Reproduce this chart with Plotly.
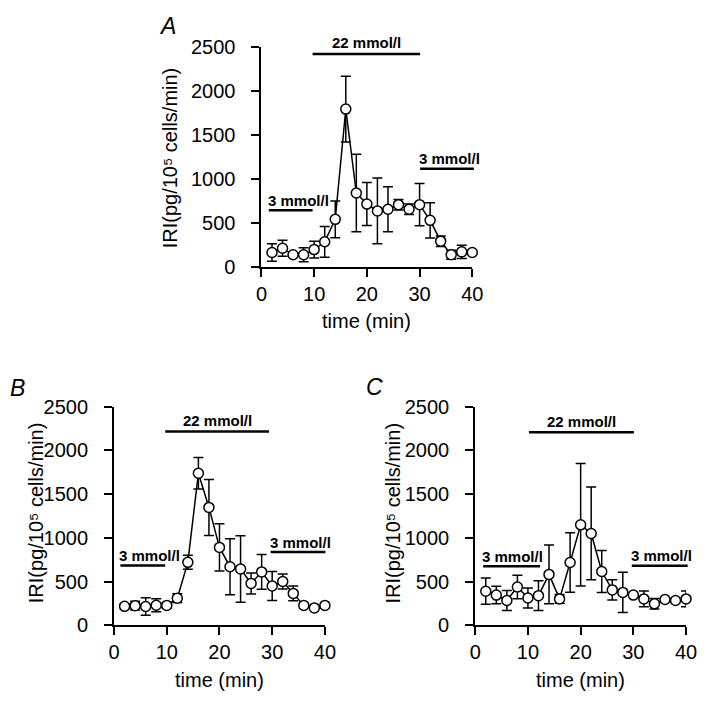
import plotly.graph_objects as go

# ---------------- data ----------------
time_min = [2, 4, 6, 8, 10, 12, 14, 16, 18, 20, 22, 24, 26, 28, 30, 32, 34, 36, 38, 40]

a_vals = [163, 211, 137, 137, 196, 285, 540, 1795, 840, 714, 636, 655, 707, 655, 707, 529, 292, 137, 170, 163]
a_err = [100, 90, 0, 80, 95, 175, 210, 375, 440, 245, 375, 255, 60, 60, 240, 200, 60, 50, 75, 0]

b_vals = [217, 225, 215, 230, 228, 310, 720, 1738, 1348, 891, 670, 644, 479, 611, 449, 501, 365, 228, 199, 228]
b_err = [30, 50, 100, 75, 30, 50, 80, 180, 320, 270, 320, 380, 120, 200, 165, 85, 85, 0, 0, 0]

c_vals = [390, 346, 284, 438, 313, 339, 582, 302, 718, 1149, 1050, 615, 405, 376, 346, 302, 247, 295, 284, 302]
c_err = [150, 100, 115, 135, 115, 170, 335, 50, 340, 700, 530, 240, 115, 230, 0, 90, 60, 0, 0, 90]

# stimulation periods: (label, start min, end min, level)
a_periods = [("3 mmol/l", 1.4, 9.7, 643), ("22 mmol/l", 9.7, 30.1, 2423), ("3 mmol/l", 30.1, 40.3, 1117)]
b_periods = [("3 mmol/l", 1.2, 9.7, 685), ("22 mmol/l", 9.7, 29.4, 2215), ("3 mmol/l", 29.7, 40.1, 838)]
c_periods = [("3 mmol/l", 1.5, 12.3, 675), ("22 mmol/l", 10.2, 30.1, 2207), ("3 mmol/l", 29.7, 40.3, 682)]

x_ticks = [0, 10, 20, 30, 40]
y_ticks = [0, 500, 1000, 1500, 2000, 2500]
x_max = 40
y_max = 2500

panel_letters = ["A", "B", "C"]
y_title = "IRI(pg/10\u2075 cells/min)"
x_title = "time (min)"

# ---------------- figure ----------------
FONT = "Liberation Sans, Arial, Helvetica, sans-serif"
fig = go.Figure()

panels = [
    ("x", "y", a_vals, a_err, a_periods),
    ("x2", "y2", b_vals, b_err, b_periods),
    ("x3", "y3", c_vals, c_err, c_periods),
]

shapes = []
annotations = []
for xa, ya, vals, errs, periods in panels:
    fig.add_trace(go.Scatter(
        x=time_min, y=vals, xaxis=xa, yaxis=ya, mode="lines+markers",
        line=dict(color="black", width=1.5),
        marker=dict(symbol="circle", size=10, color="white", line=dict(color="black", width=1.5)),
        error_y=dict(type="data", array=errs, visible=True, color="black", thickness=1.5, width=5),
        cliponaxis=False, showlegend=False, hoverinfo="skip",
    ))
    xd = xa + " domain"
    yd = ya + " domain"
    for label, t0, t1, lev in periods:
        shapes.append(dict(type="line", xref=xd, yref=yd,
                           x0=t0 / x_max, x1=t1 / x_max, y0=lev / y_max, y1=lev / y_max,
                           line=dict(color="black", width=2.5)))
        bold = dict(family=FONT, size=15, color="black", weight="bold")
        if label.startswith("22"):
            annotations.append(dict(text=label, xref=xd, yref=yd,
                                    x=(t0 + t1) / 2 / x_max, y=lev / y_max, xanchor="center",
                                    yanchor="middle", yshift=11, showarrow=False, font=bold))
        else:
            annotations.append(dict(text=label, xref=xd, yref=yd,
                                    x=t0 / x_max, y=lev / y_max, xanchor="left", xshift=-3,
                                    yanchor="middle", yshift=10, showarrow=False, font=bold))

W, H = 712, 709
def px(x):
    return x / W
def py(y):
    return 1 - y / H

dom = {
    "A": ([px(261.7), px(477.7)], [py(264), py(37.3)]),
    "B": ([px(110.7), px(326.7)], [py(634), py(408.3)]),
    "C": ([px(480.7), px(696.7)], [py(634), py(408.3)]),
}

axis_common = dict(showline=True, linecolor="black", linewidth=2, ticks="outside",
                   ticklen=8, tickwidth=2, tickcolor="black", showgrid=False, zeroline=False,
                   tickfont=dict(family=FONT, size=20, color="black"), fixedrange=True)

layout_axes = {}
for i, key in enumerate(["A", "B", "C"]):
    sfx = "" if i == 0 else str(i + 1)
    xdom, ydom = dom[key]
    layout_axes["xaxis" + sfx] = dict(axis_common, domain=xdom, range=[0, x_max],
                                      tickvals=x_ticks, anchor="y" + sfx)
    layout_axes["yaxis" + sfx] = dict(axis_common, domain=ydom, range=[0, y_max],
                                      tickvals=y_ticks, anchor="x" + sfx, ticklabelstandoff=12)

# axis titles and panel letters (text positioned in paper coords)
title_pos = {
    "A": dict(yt=(168, 151), xt=(369.7, 320), letter=(165, 15)),
    "B": dict(yt=(31, 518), xt=(218.7, 690), letter=(12, 389)),
    "C": dict(yt=(396, 518), xt=(588.7, 690), letter=(378, 388)),
}
for key, letter in zip(["A", "B", "C"], panel_letters):
    p = title_pos[key]
    annotations.append(dict(text=y_title, xref="paper", yref="paper", x=px(p["yt"][0]), y=py(p["yt"][1]),
                            textangle=-90, showarrow=False, xanchor="center", yanchor="middle",
                            font=dict(family=FONT, size=20, color="black")))
    annotations.append(dict(text=x_title, xref="paper", yref="paper", x=px(p["xt"][0]), y=py(p["xt"][1]),
                            showarrow=False, xanchor="center", yanchor="middle",
                            font=dict(family=FONT, size=20, color="black")))
    annotations.append(dict(text=letter, xref="paper", yref="paper",
                            x=px(p["letter"][0]), y=py(p["letter"][1]),
                            showarrow=False, xanchor="center", yanchor="middle",
                            font=dict(family=FONT, size=23, color="black", style="italic")))

fig.update_layout(
    width=W, height=H, margin=dict(l=0, r=0, t=0, b=0),
    paper_bgcolor="white", plot_bgcolor="white", showlegend=False,
    shapes=shapes, annotations=annotations, **layout_axes,
)

fig.write_html(
    "out.html",
    config={"displayModeBar": False},
    post_script="document.body.style.margin='0';document.body.style.padding='0';"
                "document.body.style.overflow='hidden';",
)
